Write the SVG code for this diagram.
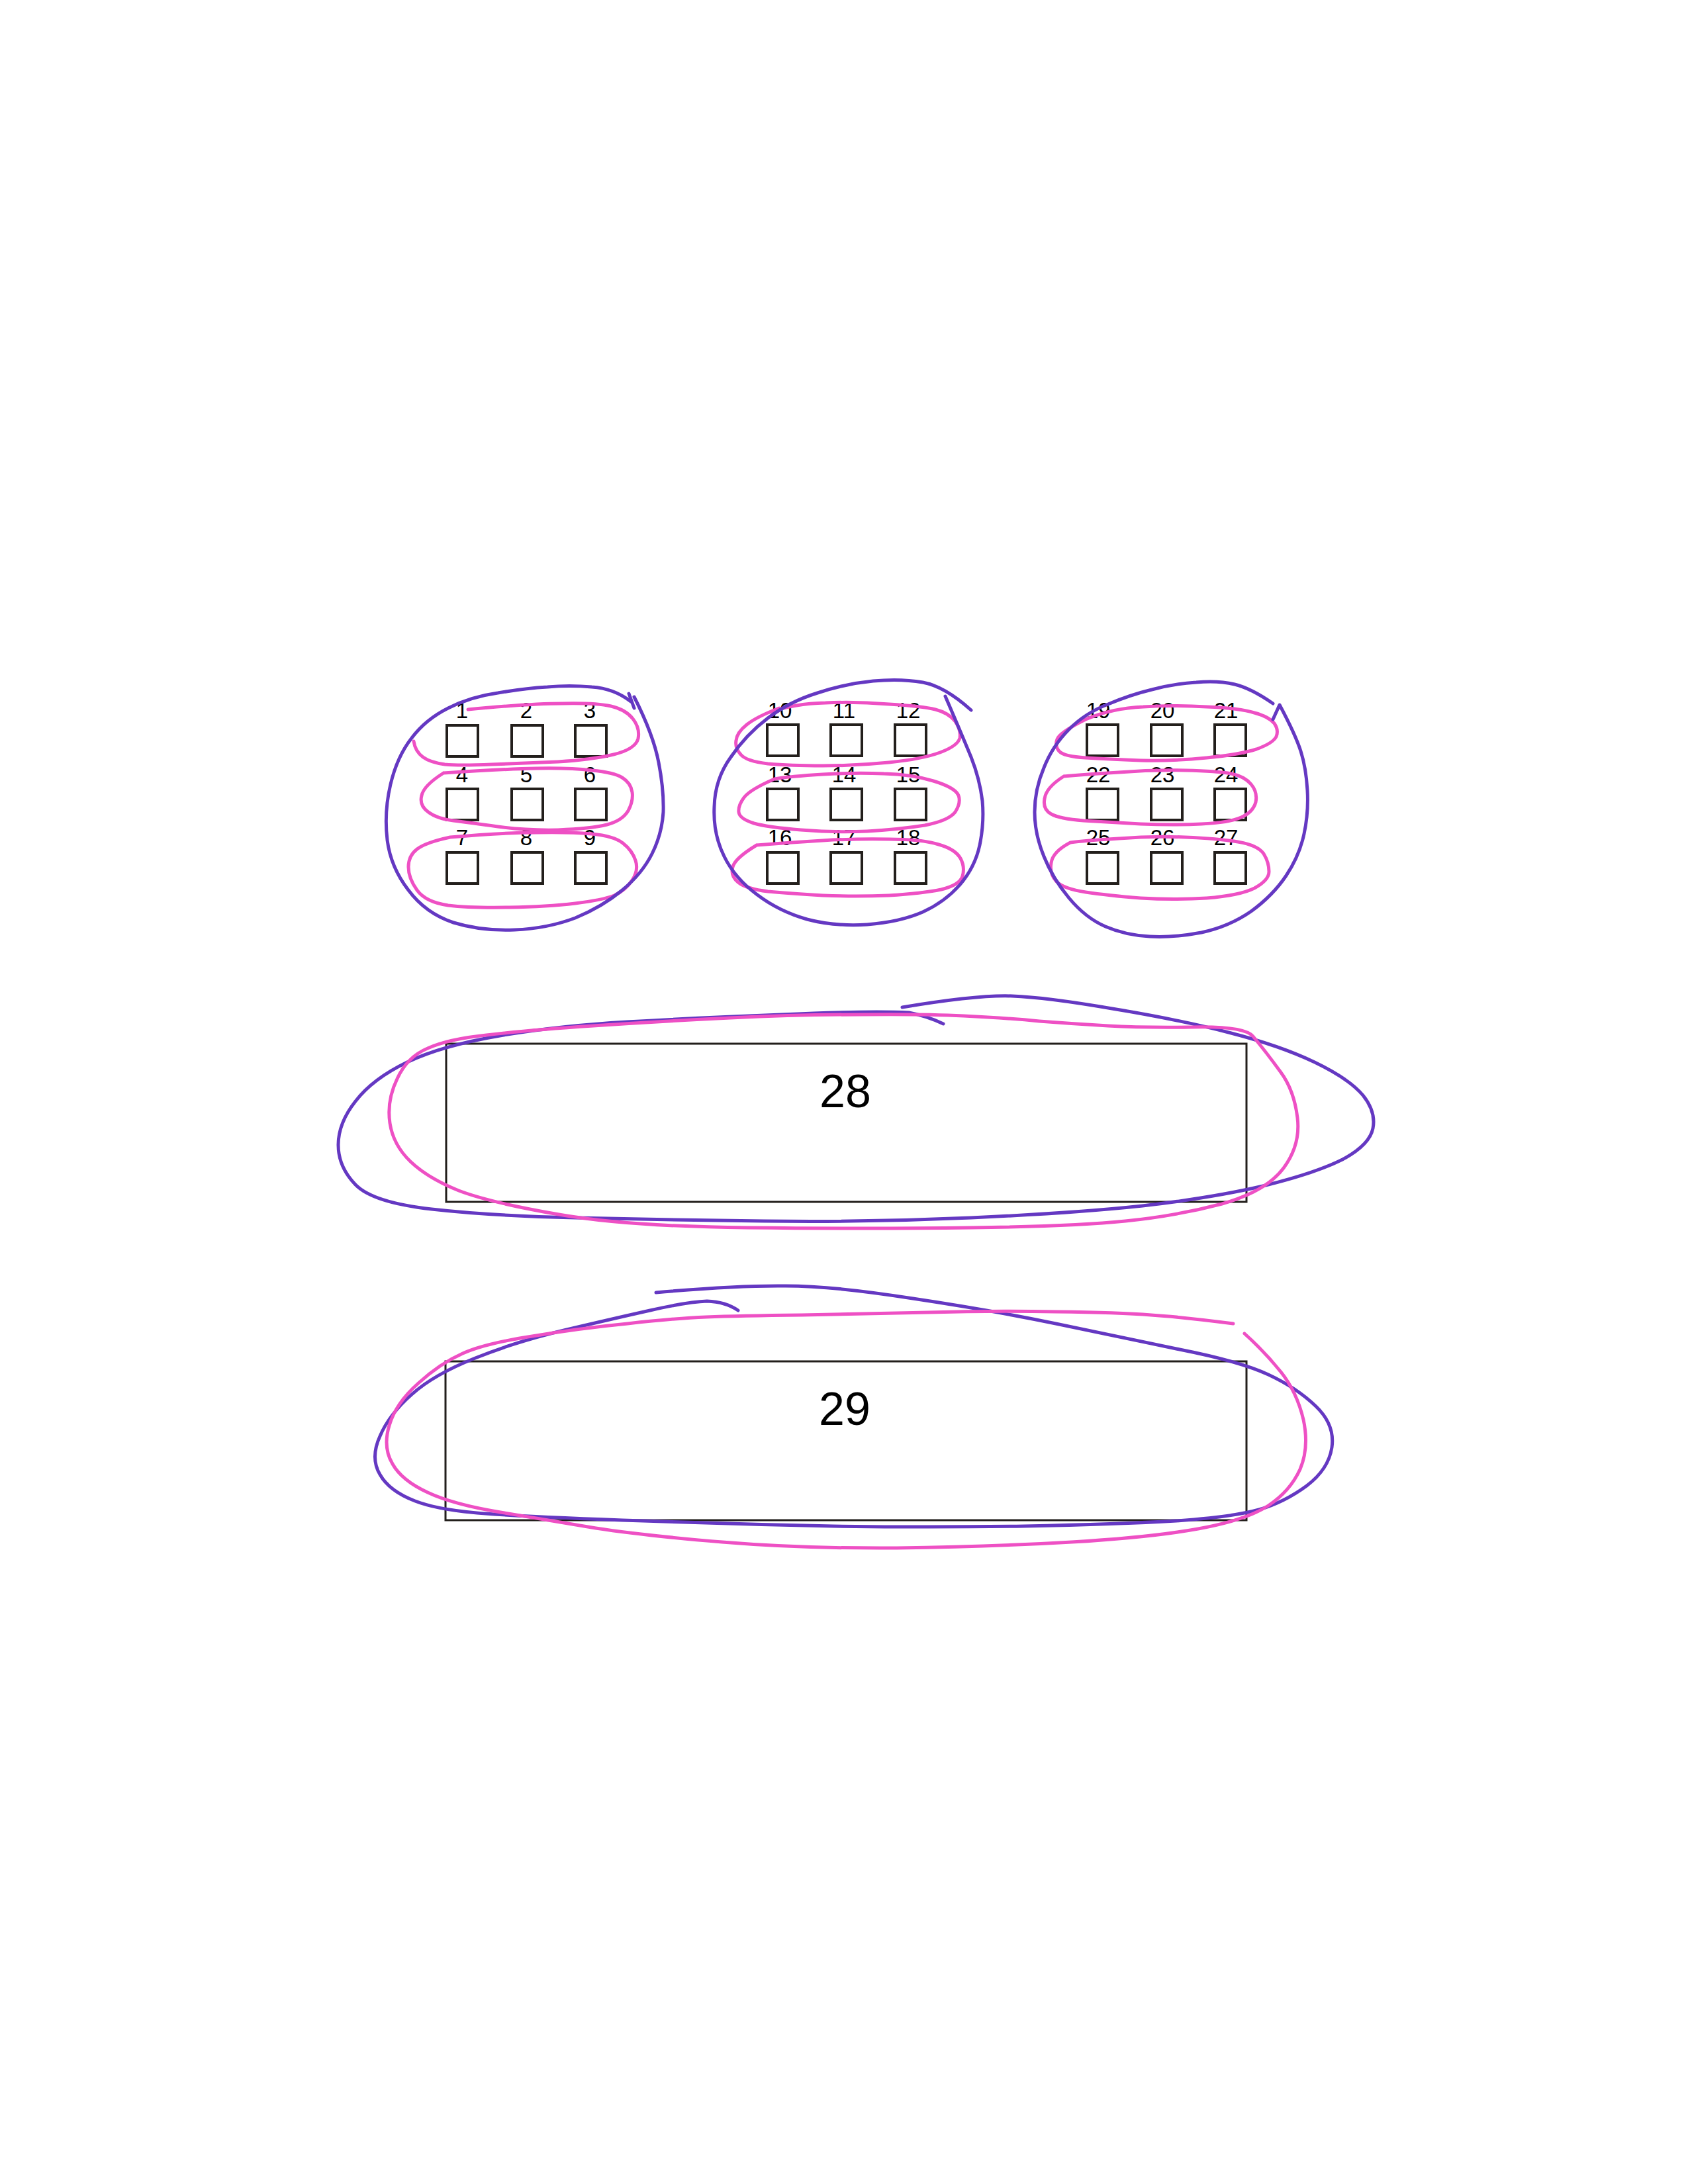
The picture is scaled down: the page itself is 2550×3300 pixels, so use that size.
<svg xmlns="http://www.w3.org/2000/svg" width="2550" height="3300" viewBox="0 0 2550 3300">
<style>
.sq{fill:none;stroke:#231f1c;stroke-width:4}
.big{fill:none;stroke:#231f1c;stroke-width:3}
.lb{font-family:"Liberation Sans",Arial,sans-serif;font-size:33px;fill:#000;text-anchor:middle}
.lbb{font-family:"Liberation Sans",Arial,sans-serif;font-size:70px;fill:#000;text-anchor:middle}
.pu{fill:none;stroke:#6438c2;stroke-width:5;stroke-linecap:round;stroke-linejoin:round}
.pk{fill:none;stroke:#ee50c4;stroke-width:5;stroke-linecap:round;stroke-linejoin:round}
</style>
<rect width="2550" height="3300" fill="#ffffff"/>

<g id="n1"><rect class="sq" x="675" y="1096" width="47" height="47"/><text class="lb" x="698" y="1085">1</text></g>
<g id="n2"><rect class="sq" x="773" y="1096" width="47" height="47"/><text class="lb" x="795" y="1085">2</text></g>
<g id="n3"><rect class="sq" x="869" y="1096" width="47" height="47"/><text class="lb" x="891" y="1085">3</text></g>
<g id="n4"><rect class="sq" x="675" y="1192" width="47" height="47"/><text class="lb" x="698" y="1182">4</text></g>
<g id="n5"><rect class="sq" x="773" y="1192" width="47" height="47"/><text class="lb" x="795" y="1182">5</text></g>
<g id="n6"><rect class="sq" x="869" y="1192" width="47" height="47"/><text class="lb" x="891" y="1182">6</text></g>
<g id="n7"><rect class="sq" x="675" y="1288" width="47" height="47"/><text class="lb" x="698" y="1277">7</text></g>
<g id="n8"><rect class="sq" x="773" y="1288" width="47" height="47"/><text class="lb" x="795" y="1277">8</text></g>
<g id="n9"><rect class="sq" x="869" y="1288" width="47" height="47"/><text class="lb" x="891" y="1277">9</text></g>

<g id="n10"><rect class="sq" x="1159" y="1095" width="47" height="47"/><text class="lb" x="1178" y="1085">10</text></g>
<g id="n11"><rect class="sq" x="1255" y="1095" width="47" height="47"/><text class="lb" x="1275" y="1085">11</text></g>
<g id="n12"><rect class="sq" x="1352" y="1095" width="47" height="47"/><text class="lb" x="1372" y="1085">12</text></g>
<g id="n13"><rect class="sq" x="1159" y="1192" width="47" height="47"/><text class="lb" x="1178" y="1182">13</text></g>
<g id="n14"><rect class="sq" x="1255" y="1192" width="47" height="47"/><text class="lb" x="1275" y="1182">14</text></g>
<g id="n15"><rect class="sq" x="1352" y="1192" width="47" height="47"/><text class="lb" x="1372" y="1182">15</text></g>
<g id="n16"><rect class="sq" x="1159" y="1288" width="47" height="47"/><text class="lb" x="1178" y="1277">16</text></g>
<g id="n17"><rect class="sq" x="1255" y="1288" width="47" height="47"/><text class="lb" x="1275" y="1277">17</text></g>
<g id="n18"><rect class="sq" x="1352" y="1288" width="47" height="47"/><text class="lb" x="1372" y="1277">18</text></g>

<g id="n19"><rect class="sq" x="1642" y="1095" width="47" height="47"/><text class="lb" x="1659" y="1085">19</text></g>
<g id="n20"><rect class="sq" x="1739" y="1095" width="47" height="47"/><text class="lb" x="1756" y="1085">20</text></g>
<g id="n21"><rect class="sq" x="1835" y="1095" width="47" height="47"/><text class="lb" x="1852" y="1085">21</text></g>
<g id="n22"><rect class="sq" x="1642" y="1192" width="47" height="47"/><text class="lb" x="1659" y="1182">22</text></g>
<g id="n23"><rect class="sq" x="1739" y="1192" width="47" height="47"/><text class="lb" x="1756" y="1182">23</text></g>
<g id="n24"><rect class="sq" x="1835" y="1192" width="47" height="47"/><text class="lb" x="1852" y="1182">24</text></g>
<g id="n25"><rect class="sq" x="1642" y="1288" width="47" height="47"/><text class="lb" x="1659" y="1277">25</text></g>
<g id="n26"><rect class="sq" x="1739" y="1288" width="47" height="47"/><text class="lb" x="1756" y="1277">26</text></g>
<g id="n27"><rect class="sq" x="1835" y="1288" width="47" height="47"/><text class="lb" x="1852" y="1277">27</text></g>

<g id="n28"><rect class="big" x="674" y="1577" width="1209" height="239"/><text class="lbb" x="1277" y="1673">28</text></g>
<g id="n29"><rect class="big" x="673" y="2057" width="1210" height="240"/><text class="lbb" x="1276" y="2153">29</text></g>

<g id="connectors">
<path class="pk" d="M707,1072 Q800,1063 850,1063 Q900,1062 923,1067 Q945,1072 956,1086 Q967,1100 964,1116 Q960,1132 927,1140 Q893,1148 843,1151 Q793,1153 743,1155 Q693,1157 672,1155 Q650,1152 639,1144 Q627,1135 625,1120"/>
<path class="pk" d="M670,1168 Q760,1162 810,1161 Q860,1160 894,1164 Q927,1167 940,1175 Q953,1183 955,1197 Q957,1210 949,1225 Q940,1240 917,1246 Q893,1252 843,1254 Q793,1255 752,1249 Q710,1243 685,1240 Q660,1237 647,1227 Q633,1217 637,1202 Q640,1187 670,1168"/>
<path class="pk" d="M680,1265 Q760,1258 810,1258 Q860,1257 894,1260 Q927,1263 941,1274 Q955,1285 960,1300 Q965,1315 955,1330 Q945,1345 928,1353 Q910,1360 869,1365 Q827,1370 769,1371 Q710,1372 677,1368 Q643,1363 630,1345 Q617,1327 617,1310 Q617,1293 630,1283 Q643,1273 680,1265"/>
<path class="pk" d="M1160,1077 Q1200,1063 1247,1062 Q1293,1060 1343,1064 Q1393,1067 1413,1072 Q1433,1077 1443,1090 Q1452,1103 1450,1115 Q1447,1127 1420,1137 Q1393,1147 1343,1152 Q1293,1157 1243,1157 Q1193,1157 1160,1154 Q1127,1150 1119,1140 Q1110,1130 1112,1119 Q1113,1107 1128,1095 Q1143,1083 1177,1070"/>
<path class="pk" d="M1170,1177 Q1193,1173 1243,1170 Q1293,1167 1335,1169 Q1377,1170 1410,1180 Q1443,1190 1448,1202 Q1452,1213 1443,1227 Q1433,1240 1397,1247 Q1360,1253 1310,1256 Q1260,1258 1210,1254 Q1160,1250 1139,1244 Q1117,1237 1116,1227 Q1115,1217 1124,1205 Q1133,1193 1170,1177"/>
<path class="pk" d="M1143,1277 Q1193,1273 1243,1270 Q1293,1267 1343,1268 Q1393,1268 1418,1276 Q1443,1283 1451,1297 Q1458,1310 1454,1324 Q1450,1337 1422,1344 Q1393,1350 1343,1353 Q1293,1355 1243,1353 Q1193,1350 1160,1347 Q1127,1343 1115,1333 Q1103,1323 1107,1310 Q1110,1297 1143,1277"/>
<path class="pk" d="M1640,1087 Q1680,1070 1727,1068 Q1773,1065 1823,1068 Q1873,1070 1895,1077 Q1917,1083 1925,1093 Q1932,1103 1928,1113 Q1923,1123 1898,1132 Q1873,1140 1823,1145 Q1773,1150 1723,1149 Q1673,1147 1640,1145 Q1607,1143 1600,1135 Q1593,1127 1597,1117 Q1600,1107 1640,1087"/>
<path class="pk" d="M1607,1173 Q1640,1170 1690,1167 Q1740,1163 1790,1164 Q1840,1165 1860,1169 Q1880,1173 1890,1185 Q1900,1197 1897,1212 Q1893,1227 1875,1235 Q1857,1243 1815,1245 Q1773,1247 1723,1245 Q1673,1242 1637,1240 Q1600,1237 1588,1230 Q1575,1223 1578,1207 Q1580,1190 1607,1173"/>
<path class="pk" d="M1617,1273 Q1640,1270 1690,1267 Q1740,1263 1790,1265 Q1840,1267 1870,1272 Q1900,1277 1909,1290 Q1917,1303 1917,1317 Q1917,1330 1895,1342 Q1873,1353 1823,1357 Q1773,1360 1723,1357 Q1673,1353 1640,1348 Q1607,1343 1596,1332 Q1585,1320 1588,1304 Q1590,1287 1617,1273"/>
<path class="pu" d="M950,1048 L958,1070"/>
<path class="pu" d="M958,1053 Q987,1110 995,1152 Q1003,1193 1002,1227 Q1000,1260 985,1290 Q970,1320 940,1345 Q910,1370 869,1387 Q827,1403 777,1405 Q727,1407 685,1394 Q643,1380 617,1345 Q590,1310 585,1269 Q580,1227 590,1185 Q600,1143 622,1115 Q643,1087 677,1070 Q710,1053 752,1047 Q793,1040 827,1038 Q860,1035 894,1038 Q927,1040 953,1060"/>
<path class="pu" d="M1428,1052 Q1453,1110 1467,1144 Q1480,1177 1484,1210 Q1487,1243 1480,1277 Q1473,1310 1450,1337 Q1427,1363 1394,1378 Q1360,1393 1310,1397 Q1260,1400 1219,1389 Q1177,1377 1144,1352 Q1110,1327 1094,1294 Q1077,1260 1079,1219 Q1080,1177 1104,1144 Q1127,1110 1160,1085 Q1193,1060 1235,1047 Q1277,1033 1319,1029 Q1360,1025 1394,1031 Q1427,1037 1467,1073"/>
<path class="pu" d="M1923,1087 L1933,1065 Q1957,1110 1965,1135 Q1973,1160 1975,1194 Q1977,1227 1970,1260 Q1963,1293 1943,1323 Q1923,1353 1890,1377 Q1857,1400 1815,1409 Q1773,1417 1737,1415 Q1700,1413 1670,1400 Q1640,1387 1615,1357 Q1590,1327 1577,1294 Q1563,1260 1563,1227 Q1563,1193 1577,1160 Q1590,1127 1615,1102 Q1640,1077 1674,1064 Q1707,1050 1740,1042 Q1773,1033 1807,1031 Q1840,1028 1865,1034 Q1890,1040 1923,1063"/>
<path class="pu" d="M1363,1522 Q1477,1503 1529,1505 Q1581,1507 1680,1524 Q1778,1540 1856,1560 Q1934,1580 1986,1605 Q2038,1630 2059,1655 Q2079,1680 2074,1705 Q2069,1730 2028,1752 Q1986,1773 1908,1792 Q1830,1810 1726,1822 Q1622,1833 1467,1840 Q1311,1847 1155,1845 Q999,1843 870,1840 Q740,1837 652,1827 Q563,1817 537,1790 Q511,1763 511,1730 Q511,1697 537,1664 Q563,1630 615,1605 Q667,1580 755,1565 Q843,1550 947,1544 Q1051,1538 1181,1533 Q1311,1527 1373,1530 Q1400,1535 1425,1547"/>
<path class="pk" d="M1893,1566 Q1880,1550 1799,1552 Q1726,1553 1674,1550 Q1622,1547 1570,1543 Q1518,1538 1456,1535 Q1394,1532 1301,1533 Q1207,1533 1103,1538 Q999,1543 896,1550 Q792,1557 735,1564 Q677,1570 646,1584 Q615,1597 600,1630 Q584,1663 589,1697 Q594,1730 620,1755 Q646,1780 693,1799 Q740,1817 844,1835 Q947,1853 1129,1855 Q1311,1857 1467,1855 Q1622,1853 1700,1845 Q1778,1837 1846,1819 Q1913,1800 1939,1765 Q1965,1730 1960,1689 Q1955,1647 1934,1619 Q1913,1590 1893,1566"/>
<path class="pu" d="M991,1953 Q1115,1942 1187,1943 Q1259,1943 1379,1962 Q1499,1980 1595,2000 Q1691,2020 1782,2039 Q1873,2057 1916,2077 Q1959,2097 1988,2125 Q2017,2153 2012,2187 Q2007,2220 1974,2245 Q1940,2270 1902,2281 Q1863,2292 1777,2298 Q1691,2303 1547,2306 Q1403,2308 1259,2306 Q1115,2303 972,2298 Q828,2293 747,2288 Q665,2283 627,2268 Q588,2253 574,2228 Q559,2203 574,2170 Q588,2137 622,2107 Q655,2077 718,2052 Q780,2027 852,2010 Q924,1993 982,1980 Q1039,1967 1068,1966 Q1096,1967 1115,1980"/>
<path class="pk" d="M1863,2000 Q1786,1990 1739,1987 Q1691,1983 1595,1982 Q1499,1980 1403,1983 Q1307,1985 1211,1987 Q1115,1988 1067,1990 Q1019,1992 948,2000 Q876,2007 804,2019 Q732,2030 699,2045 Q665,2060 632,2090 Q598,2120 588,2154 Q578,2187 593,2212 Q607,2237 646,2255 Q684,2273 756,2285 Q828,2297 900,2309 Q971,2320 1091,2330 Q1211,2340 1355,2339 Q1499,2337 1619,2330 Q1738,2323 1810,2310 Q1882,2297 1916,2275 Q1949,2253 1964,2220 Q1978,2187 1969,2145 Q1959,2103 1935,2073 Q1911,2043 1880,2015"/>
</g>
</svg>
